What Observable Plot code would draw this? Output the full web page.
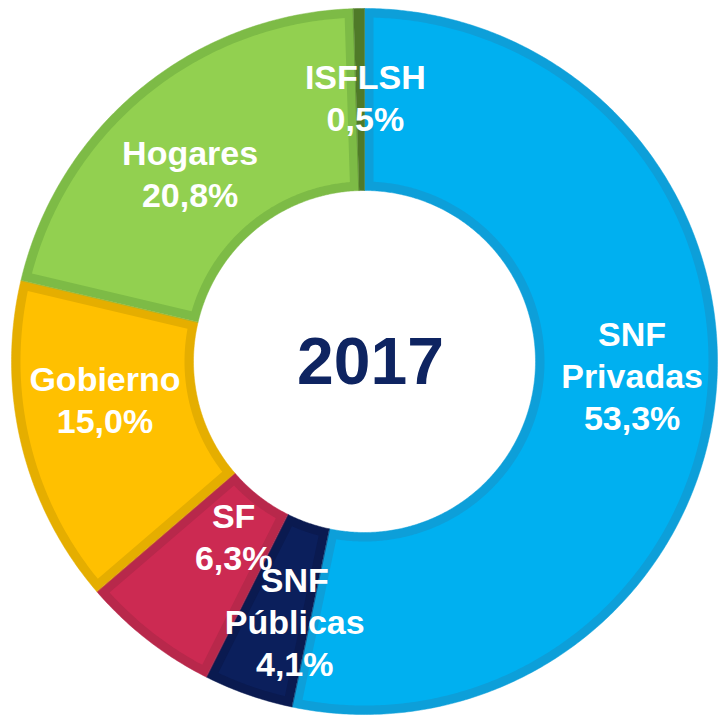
<!DOCTYPE html>
<html>
<head>
<meta charset="utf-8">
<script src="https://cdn.jsdelivr.net/npm/d3@7"></script>
<script src="https://cdn.jsdelivr.net/npm/@observablehq/plot@0.6"></script>
<style>
  html, body { margin: 0; padding: 0; background: #ffffff; }
  #chart { width: 720px; height: 720px; overflow: hidden; }
</style>
</head>
<body>
<div id="chart"></div>
<script>
// ---- data ----
const categories = ["SNF Privadas", "SNF Públicas", "SF", "Gobierno", "Hogares", "ISFLSH"];
const labels = ["SNF\nPrivadas", "SNF\nPúblicas", "SF", "Gobierno", "Hogares", "ISFLSH"];
const values = [53.3, 4.1, 6.3, 15.0, 20.8, 0.5];
const year = "2017";

// ---- styles ----
const fillColors   = ["#00B0F0", "#0B1F5C", "#CC2A52", "#FFC000", "#92D050", "#4F7A28"];
const borderColors = ["#0D9FD9", "#0A1A50", "#B8284B", "#E5AE00", "#7DBB46", "#4F7A28"];
const labelShift = [[6, -14], [17, 11], [31, -33], [-4, -25], [-8, 15], [5, -2]];

const R = 353, r = 171, b = 9;
const pie = d3.pie().sort(null).startAngle(0).endAngle(2 * Math.PI)(values);

function arcPoints(a0, a1, ro, ri, insetB) {
  const pts = [];
  const oo = insetB ? Math.asin(insetB / ro) : 0;
  const oi = insetB ? Math.asin(insetB / ri) : 0;
  const o0 = a0 + oo, o1 = a1 - oo, i0 = a0 + oi, i1 = a1 - oi;
  const n = Math.max(2, Math.ceil((a1 - a0) / (Math.PI / 360)));
  for (let k = 0; k <= n; k++) {
    const a = o0 + (o1 - o0) * k / n;
    pts.push({x: ro * Math.sin(a), y: ro * Math.cos(a)});
  }
  for (let k = n; k >= 0; k--) {
    const a = i0 + (i1 - i0) * k / n;
    pts.push({x: ri * Math.sin(a), y: ri * Math.cos(a)});
  }
  return pts;
}

const marks = [];
pie.forEach((p, i) => {
  marks.push(Plot.line(arcPoints(p.startAngle, p.endAngle, R, r, 0),
    {x: "x", y: "y", fill: borderColors[i], stroke: borderColors[i], strokeWidth: 0.5, curve: "linear-closed"}));
  const widthOuter = (p.endAngle - p.startAngle) * (r + b);
  if (widthOuter > 4 * b) {
    marks.push(Plot.line(arcPoints(p.startAngle, p.endAngle, R - b, r + b, b),
      {x: "x", y: "y", fill: fillColors[i], stroke: "none", curve: "linear-closed"}));
  }
});

const labelRadius = 263;
pie.forEach((p, i) => {
  const mid = (p.startAngle + p.endAngle) / 2;
  const d = {
    x: labelRadius * Math.sin(mid),
    y: labelRadius * Math.cos(mid),
    text: labels[i] + "\n" + values[i].toFixed(1).replace(".", ",") + "%"
  };
  marks.push(Plot.text([d], {
    x: "x", y: "y", text: "text",
    fill: "white", fontSize: 34, fontWeight: "bold",
    fontFamily: "Liberation Sans, Arial, sans-serif",
    lineHeight: 1.24, dx: labelShift[i][0], dy: labelShift[i][1]
  }));
});

marks.push(Plot.text([{x: 0, y: 0, text: year}], {
  x: "x", y: "y", text: "text", fill: "#0E2461", fontSize: 66, fontWeight: "bold",
  fontFamily: "Liberation Sans, Arial, sans-serif", dx: 6, dy: 1
}));

const chart = Plot.plot({
  width: 720,
  height: 720,
  margin: 0,
  x: {domain: [-364, 356], axis: null},
  y: {domain: [-359, 361], axis: null},
  style: {background: "white"},
  marks
});
document.getElementById("chart").appendChild(chart);
</script>
</body>
</html>
